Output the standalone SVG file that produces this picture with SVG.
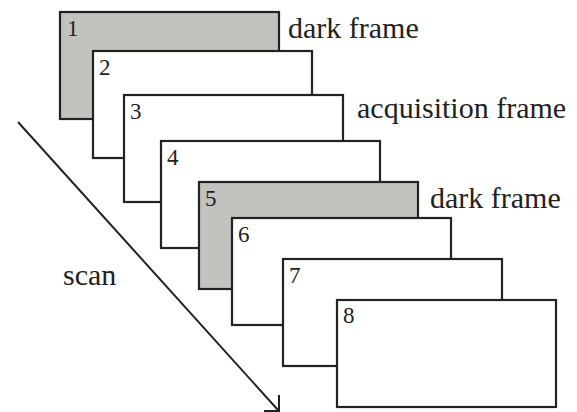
<svg xmlns="http://www.w3.org/2000/svg" width="577" height="412" viewBox="0 0 577 412">
  <defs>
    <style>
      .frame { stroke: #222; stroke-width: 2.2; }
      .dark { fill: #c2c2be; }
      .acq { fill: #ffffff; }
      .num { font-family: "Liberation Serif", "Times New Roman", serif; font-size: 23px; fill: #222; }
      .lbl { font-family: "Liberation Serif", "Times New Roman", serif; font-size: 30px; fill: #222; }
      .conn { stroke: #222; stroke-width: 2; fill: none; }
    </style>
  </defs>
  <rect width="577" height="412" fill="#ffffff"/>

  <g id="connectors">
    <line class="conn" x1="18" y1="122" x2="278" y2="410"/>
    <path class="conn" d="M279,395 L279,411 L264,411"/>
  </g>

  <g id="frame1">
    <rect class="frame dark" x="60" y="12" width="219" height="107"/>
    <text class="num" x="67" y="36">1</text>
  </g>
  <g id="frame2">
    <rect class="frame acq" x="93" y="51" width="219" height="107"/>
    <text class="num" x="99" y="75">2</text>
  </g>
  <g id="frame3">
    <rect class="frame acq" x="124" y="95" width="219" height="107"/>
    <text class="num" x="130" y="119">3</text>
  </g>
  <g id="frame4">
    <rect class="frame acq" x="161" y="141" width="219" height="107"/>
    <text class="num" x="167" y="165">4</text>
  </g>
  <g id="frame5">
    <rect class="frame dark" x="199" y="182" width="219" height="107"/>
    <text class="num" x="205" y="206">5</text>
  </g>
  <g id="frame6">
    <rect class="frame acq" x="232" y="218" width="219" height="107"/>
    <text class="num" x="238" y="242">6</text>
  </g>
  <g id="frame7">
    <rect class="frame acq" x="283" y="259" width="219" height="107"/>
    <text class="num" x="289" y="283">7</text>
  </g>
  <g id="frame8">
    <rect class="frame acq" x="337" y="300" width="219" height="107"/>
    <text class="num" x="343" y="323">8</text>
  </g>

  <g id="labels">
    <text class="lbl" x="288" y="38">dark frame</text>
    <text class="lbl" x="357" y="118">acquisition frame</text>
    <text class="lbl" x="430" y="208">dark frame</text>
    <text class="lbl" x="63" y="285">scan</text>
  </g>
</svg>
